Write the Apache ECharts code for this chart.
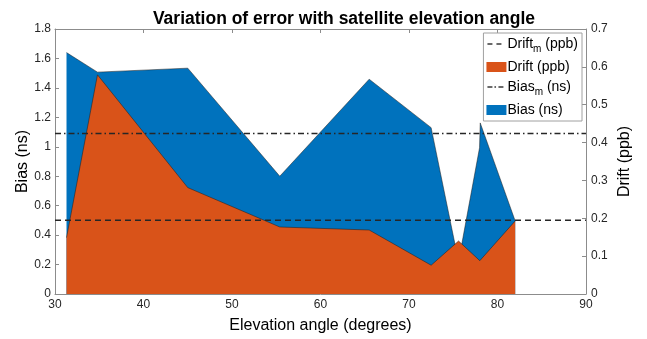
<!DOCTYPE html>
<html>
<head>
<meta charset="utf-8">
<script src="https://cdn.jsdelivr.net/npm/echarts@6/dist/echarts.min.js"></script>
<style>
html,body{margin:0;padding:0;background:#fff;}
#chart{width:647px;height:339px;}
</style>
</head>
<body>
<div id="chart"></div>
<script>
// Elevation angles (degrees) and values
var biasElevation = [31.3, 34.8, 45.0, 55.4, 65.5, 72.5, 75.6, 77.97, 78.05, 82.0];
var biasValues    = [1.64, 1.507, 1.534, 0.80, 1.459, 1.13, 0.22, 0.993, 1.162, 0.496];
var driftElevation = [31.3, 34.8, 45.0, 55.4, 65.5, 72.5, 75.6, 78.0, 82.0];
var driftValues    = [0.149, 0.579, 0.281, 0.177, 0.169, 0.076, 0.140, 0.088, 0.193];
var biasMean = 1.091;
var driftMean = 0.195;
var xRange = [30, 90];
var xTicks = [30, 40, 50, 60, 70, 80, 90];
var biasTicks = [0, 0.2, 0.4, 0.6, 0.8, 1, 1.2, 1.4, 1.6, 1.8];
var driftTicks = [0, 0.1, 0.2, 0.3, 0.4, 0.5, 0.6, 0.7];

function pairs(xs, ys){ return xs.map(function(x,i){ return [x, ys[i]]; }); }

var chart = echarts.init(document.getElementById('chart'), null, {renderer:'canvas'});
var axisCol = '#262626';
var lineCol = '#8c8c8c';
var font = 'Liberation Sans, Arial, Helvetica, sans-serif';

// legend icons (filled dash shapes, with tiny corner marks to keep the 20x10 box)
var corners = 'M0,0h0.05v0.05h-0.05z M19.95,9.95h0.05v0.05h-0.05z ';
var dashIcon = 'path://' + corners + 'M1,4.3h5v1.4h-5z M10,4.3h5v1.4h-5z';
var dashDotIcon = 'path://' + corners + 'M1,4.3h5v1.4h-5z M8,4.3h1.6v1.4h-1.6z M12,4.3h5v1.4h-5z';

var option = {
  animation: false,
  backgroundColor: '#ffffff',
  textStyle: {fontFamily: font},
  title: {
    text: 'Variation of error with satellite elevation angle',
    left: 339, textAlign: 'center', top: 5,
    textStyle: {fontFamily: font, fontWeight: 'bold', fontSize: 17.5, color: '#000'}
  },
  grid: {left: 55, right: 61, top: 29, bottom: 44, containLabel: false},
  legend: {
    orient: 'vertical',
    right: 65, top: 33,
    padding: [4, 4, 4, 3],
    itemGap: 6,
    itemWidth: 20, itemHeight: 10,
    borderColor: '#a0a0a0', borderWidth: 1,
    backgroundColor: '#ffffff',
    textStyle: {
      fontFamily: font, fontSize: 14, color: '#000', padding: [0,0,0,-4],
      rich: {sub: {fontFamily: font, fontSize: 10, color: '#000', padding: [10,0,0,0]}}
    },
    formatter: function(name){ return name.replace('_m', '{sub|m}'); },
    data: [
      {name: 'Drift_m (ppb)', icon: dashIcon, itemStyle: {color: '#3a3a3a'}},
      {name: 'Drift (ppb)', icon: 'rect'},
      {name: 'Bias_m (ns)', icon: dashDotIcon, itemStyle: {color: '#3a3a3a'}},
      {name: 'Bias (ns)', icon: 'rect'}
    ]
  },
  xAxis: [{
    type: 'value', min: xRange[0], max: xRange[1], interval: 10,
    name: 'Elevation angle (degrees)', nameLocation: 'middle', nameGap: 24, nameMoveOverlap: false,
    nameTextStyle: {fontFamily: font, fontSize: 16, color: '#000'},
    axisLine: {show: true, lineStyle: {color: lineCol}},
    axisTick: {show: true, inside: true, length: 4, lineStyle: {color: lineCol}},
    axisLabel: {fontSize: 12, color: axisCol, margin: 5,
      formatter: function(v){ return xTicks.indexOf(v) >= 0 ? String(v) : ''; }},
    splitLine: {show: false}
  }, {
    type: 'value', min: xRange[0], max: xRange[1], interval: 10, position: 'top',
    axisLine: {show: true, onZero: false, lineStyle: {color: lineCol}},
    axisTick: {show: true, inside: true, length: 4, lineStyle: {color: lineCol}},
    axisLabel: {show: false}, splitLine: {show: false}
  }],
  yAxis: [{
    type: 'value', min: 0, max: 1.8, interval: 0.2, position: 'left',
    name: 'Bias (ns)', nameLocation: 'middle', nameGap: 24, nameMoveOverlap: false,
    nameTextStyle: {fontFamily: font, fontSize: 16, color: '#000'},
    axisLine: {show: true, lineStyle: {color: lineCol}},
    axisTick: {show: true, inside: true, length: 4, lineStyle: {color: lineCol}},
    axisLabel: {fontSize: 12, color: axisCol, margin: 4,
      formatter: function(v){ var r = Math.round(v*10)/10; return biasTicks.indexOf(r) >= 0 ? String(r) : ''; }},
    splitLine: {show: false}
  }, {
    type: 'value', min: 0, max: 0.7, interval: 0.1, position: 'right',
    name: 'Drift (ppb)', nameLocation: 'middle', nameGap: 31, nameMoveOverlap: false,
    nameTextStyle: {fontFamily: font, fontSize: 16, color: '#000'},
    axisLine: {show: true, lineStyle: {color: lineCol}},
    axisTick: {show: true, inside: true, length: 4, lineStyle: {color: lineCol}},
    axisLabel: {fontSize: 12, color: axisCol, margin: 5,
      formatter: function(v){ var r = Math.round(v*10)/10; return driftTicks.indexOf(r) >= 0 ? String(r) : ''; }},
    splitLine: {show: false}
  }],
  series: [{
    name: 'Bias (ns)', type: 'line', yAxisIndex: 0, z: 1,
    data: pairs(biasElevation, biasValues),
    symbol: 'none', smooth: false,
    itemStyle: {color: '#0072BD'},
    lineStyle: {color: '#1a1a1a', width: 0.5},
    areaStyle: {color: '#0072BD', opacity: 1}
  }, {
    name: 'Drift (ppb)', type: 'line', yAxisIndex: 1, z: 2,
    data: pairs(driftElevation, driftValues),
    symbol: 'none', smooth: false,
    itemStyle: {color: '#D95319'},
    lineStyle: {color: '#1a1a1a', width: 0.5},
    areaStyle: {color: '#D95319', opacity: 1}
  }, {
    name: 'Drift_m (ppb)', type: 'line', yAxisIndex: 1, z: 3,
    data: [[xRange[0], driftMean], [xRange[1], driftMean]],
    symbol: 'none',
    itemStyle: {color: '#262626'},
    lineStyle: {color: '#262626', width: 1.5, type: [6, 4]}
  }, {
    name: 'Bias_m (ns)', type: 'line', yAxisIndex: 0, z: 3,
    data: [[xRange[0], biasMean], [xRange[1], biasMean]],
    symbol: 'none',
    itemStyle: {color: '#262626'},
    lineStyle: {color: '#262626', width: 1.5, type: [6, 3, 1.5, 3]}
  }]
};
chart.setOption(option);
</script>
</body>
</html>
